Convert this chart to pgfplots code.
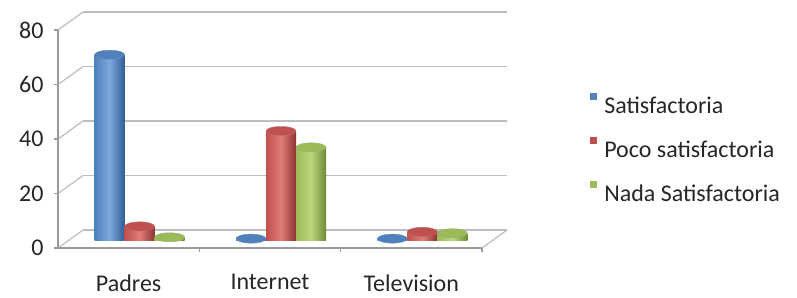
\documentclass[border=0pt]{standalone}
\usepackage{fontspec}
\setmainfont{Carlito}
\usepackage{pgfplots}
\pgfplotsset{compat=1.18}
\usetikzlibrary{shapes.geometric}
\definecolor{gridc}{HTML}{BDBDBD}
\definecolor{axc}{HTML}{9A9A9A}
\definecolor{txt}{HTML}{262626}
\definecolor{bMain}{HTML}{4F81BD}
\definecolor{bLight}{HTML}{7FA8DC}
\definecolor{bDark}{HTML}{2E5D96}
\definecolor{rMain}{HTML}{C0504D}
\definecolor{rLight}{HTML}{E07D79}
\definecolor{rDark}{HTML}{8E3330}
\definecolor{gMain}{HTML}{9BBB59}
\definecolor{gLight}{HTML}{BCD67E}
\definecolor{gDark}{HTML}{6E8A36}
\pgfplotsset{
  cyl/.style n args={2}{ybar, bar shift=#1, forget plot, draw=none,
    left color=#2Main, right color=#2Dark, middle color=#2Light},
  cap/.style n args={2}{forget plot, only marks, mark=none, nodes near coords={},
    every node near coord/.append style={ellipse, minimum width=30pt, minimum height=9pt,
      inner sep=0pt, anchor=center, xshift=#1, fill=#2Main, draw=#2Dark!70, line width=0.4pt}},
}
\begin{document}
\begin{tikzpicture}[x=1pt,y=1pt]
\path[use as bounding box] (0,0) rectangle (797,297);
\begin{axis}[
  at={(69pt,57pt)}, anchor=south west,
  scale only axis, width=424pt, height=218pt,
  xmin=-0.5, xmax=2.5, ymin=0, ymax=80,
  bar width=30pt,
  xtick={0,1,2}, xticklabels={Padres,Internet,Television},
  ytick={0,20,40,60,80},
  clip=false,
  axis line style={draw=none},
  major tick length=0pt,
  /pgf/number format/assume math mode=true,
  tick label style={font=\fontsize{24}{28}\selectfont, text=txt},
  yticklabel style={xshift=-22pt, yshift=-8pt},
  xticklabel style={xshift=-11pt, yshift=-31pt},
  legend style={at={(1.229,0.677)}, anchor=north west, draw=none, fill=none,
    font=\fontsize{24}{28}\selectfont, text=txt, row sep=20pt, inner sep=0pt,
    /tikz/every odd column/.style={column sep=5pt}},
  legend cell align=left,
  legend image code/.code={\fill[#1] (0pt,6pt) rectangle (7pt,13pt);},
]
\pgfplotsinvokeforeach{0,20,40,60,80}{
  \draw[gridc, line width=1.2pt] ([shift={(14pt,10pt)}]axis cs:-0.5,#1) -- ([shift={(14pt,10pt)}]axis cs:2.5,#1);
  \draw[gridc, line width=1.2pt] ([shift={(-11pt,-8pt)}]axis cs:-0.5,#1) -- ([shift={(14pt,10pt)}]axis cs:-0.5,#1);
  \draw[axc, line width=1.2pt] ([shift={(-11pt,-8pt)}]axis cs:-0.5,#1) -- ([shift={(-15pt,-8pt)}]axis cs:-0.5,#1);
}
\draw[axc, line width=1.2pt] ([shift={(-11pt,-8pt)}]axis cs:-0.5,0) -- ([shift={(-11pt,-8pt)}]axis cs:-0.5,80);
\draw[axc, line width=1.2pt] ([shift={(-11pt,-8pt)}]axis cs:-0.5,0) -- ([shift={(-11pt,-8pt)}]axis cs:2.5,0);
\draw[gridc, line width=1.2pt] ([shift={(-11pt,-8pt)}]axis cs:2.5,0) -- ([shift={(14pt,10pt)}]axis cs:2.5,0);
\pgfplotsinvokeforeach{0.5,1.5,2.5}{
  \draw[axc, line width=1.2pt] ([shift={(-11pt,-8pt)}]axis cs:#1,0) -- ([shift={(-11pt,-12pt)}]axis cs:#1,0);
}
% Satisfactoria
\addplot[cyl={-30pt}{b}] coordinates {(0,68)};
\addplot[cap={-30pt}{b}] coordinates {(0,68)};
\addplot[cyl={-30pt}{b}] coordinates {(1,0.5)};
\addplot[cap={-30pt}{b}] coordinates {(1,0.5)};
\addplot[cyl={-30pt}{b}] coordinates {(2,0.5)};
\addplot[cap={-30pt}{b}] coordinates {(2,0.5)};
% Poco satisfactoria
\addplot[cyl={0pt}{r}] coordinates {(0,5)};
\addplot[cap={0pt}{r}] coordinates {(0,5)};
\addplot[cyl={0pt}{r}] coordinates {(1,40)};
\addplot[cap={0pt}{r}] coordinates {(1,40)};
\addplot[cyl={0pt}{r}] coordinates {(2,3)};
\addplot[cap={0pt}{r}] coordinates {(2,3)};
% Nada Satisfactoria
\addplot[cyl={30pt}{g}] coordinates {(0,1)};
\addplot[cap={30pt}{g}] coordinates {(0,1)};
\addplot[cyl={30pt}{g}] coordinates {(1,34)};
\addplot[cap={30pt}{g}] coordinates {(1,34)};
\addplot[cyl={30pt}{g}] coordinates {(2,2.5)};
\addplot[cap={30pt}{g}] coordinates {(2,2.5)};
\addlegendimage{fill=bMain, draw=none}
\addlegendentry{Satisfactoria}
\addlegendimage{fill=rMain, draw=none}
\addlegendentry{Poco satisfactoria}
\addlegendimage{fill=gMain, draw=none}
\addlegendentry{Nada Satisfactoria}
\end{axis}
\end{tikzpicture}
\end{document}
